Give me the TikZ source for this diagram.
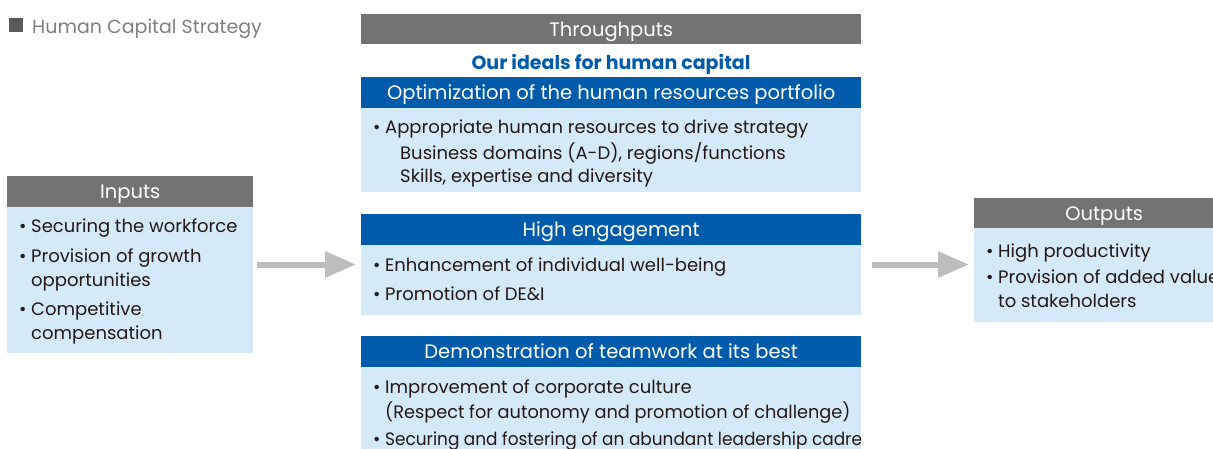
\documentclass[tikz,border=0pt]{standalone}
\usepackage{fontspec}
\setmainfont{Poppins}
\usetikzlibrary{arrows.meta}
\definecolor{hgray}{HTML}{737373}
\definecolor{cblue}{HTML}{005BAB}
\definecolor{lblue}{HTML}{D5EAF8}
\definecolor{tdark}{HTML}{231815}
\definecolor{agray}{HTML}{BDBDBD}
\definecolor{ttlgray}{HTML}{7F7F7F}
\definecolor{sqgray}{HTML}{5A5A5A}
\newcommand\bul{\makebox[12pt][l]{\textbullet}}
\begin{document}
\begin{tikzpicture}[x=1pt,y=-1pt,
  hdr/.style={fill=hgray, text=white, font=\fontsize{19.5}{22}\selectfont, inner sep=0pt, anchor=north west, text height=14pt, text depth=0pt},
  bhdr/.style={hdr, fill=cblue},
  bodybox/.style={fill=lblue, inner sep=0pt, anchor=north west},
  itm/.style={anchor=base west, inner sep=0pt, text=tdark, font=\fontsize{18}{22}\selectfont},
  arr/.style={draw=agray, line width=6pt, -{Triangle[length=31pt,width=25pt]}}]
\useasboundingbox (0,0) rectangle (1213,448);
\clip (0,0) rectangle (1213,448);
% title
\node[fill=sqgray, minimum width=14pt, minimum height=14pt, inner sep=0pt, anchor=north west] (sq) at (9,18) {};
\node[anchor=base west, inner sep=0pt, text=ttlgray, font=\fontsize{19}{22}\selectfont] (ttl) at (32,33) {Human Capital Strategy};
% inputs
\node[hdr, minimum width=246pt, minimum height=31pt] (inh) at (7,176) {Inputs};
\node[bodybox, minimum width=246pt, minimum height=146pt] (inb) at (7,207) {};
\node[itm] (in1) at (19,232) {\bul Securing the workforce};
\node[itm] (in2) at (19,262) {\bul Provision of growth};
\node[itm] (in2b) at (31,286) {opportunities};
\node[itm] (in3) at (19,315) {\bul Competitive};
\node[itm] (in3b) at (31,339) {compensation};
% throughputs
\node[hdr, minimum width=500pt, minimum height=30pt] (th) at (361,14) {Throughputs};
\node[anchor=base, inner sep=0pt, text=cblue, font=\fontsize{19}{22}\selectfont\bfseries] (ideal) at (611,69) {Our ideals for human capital};
\node[bhdr, minimum width=500pt, minimum height=31pt] (oh) at (361,77) {Optimization of the human resources portfolio};
\node[bodybox, minimum width=500pt, minimum height=84pt] (ob) at (361,108) {};
\node[itm] (o1) at (373,133) {\bul Appropriate human resources to drive strategy};
\node[itm] (o1b) at (400,159) {Business domains (A-D), regions/functions};
\node[itm] (o1c) at (400,182) {Skills, expertise and diversity};
\node[bhdr, minimum width=500pt, minimum height=31pt] (eh) at (361,214) {High engagement};
\node[bodybox, minimum width=500pt, minimum height=70pt] (eb) at (361,245) {};
\node[itm] (e1) at (373,271) {\bul Enhancement of individual well-being};
\node[itm] (e2) at (373,300) {\bul Promotion of DE\&I};
\node[bhdr, minimum width=500pt, minimum height=31pt] (dh) at (361,336) {Demonstration of teamwork at its best};
\node[bodybox, minimum width=500pt, minimum height=100pt] (db) at (361,367) {};
\node[itm] (d1) at (373,393) {\bul Improvement of corporate culture};
\node[itm] (d1b) at (385,418) {\addfontfeature{FakeStretch=0.985}(Respect for autonomy and promotion of challenge)};
\node[itm] (d2) at (373,445) {\bul \addfontfeature{FakeStretch=0.94}Securing and fostering of an abundant leadership cadre};
% outputs
\node[hdr, minimum width=260pt, minimum height=30pt] (outh) at (974,198) {Outputs};
\node[bodybox, minimum width=260pt, minimum height=94pt] (outb) at (974,228) {};
\node[itm] (u1) at (986,257) {\bul High productivity};
\node[itm] (u2) at (986,283) {\bul Provision of added value};
\node[itm] (u2b) at (998,307) {to stakeholders};
% arrows
\coordinate (a1s) at (257,264.5);
\coordinate (a1e) at (356,264.5);
\coordinate (a2s) at (872,264.5);
\coordinate (a2e) at (969,264.5);
\draw[arr] (a1s) -- (a1e);
\draw[arr] (a2s) -- (a2e);
\end{tikzpicture}
\end{document}
